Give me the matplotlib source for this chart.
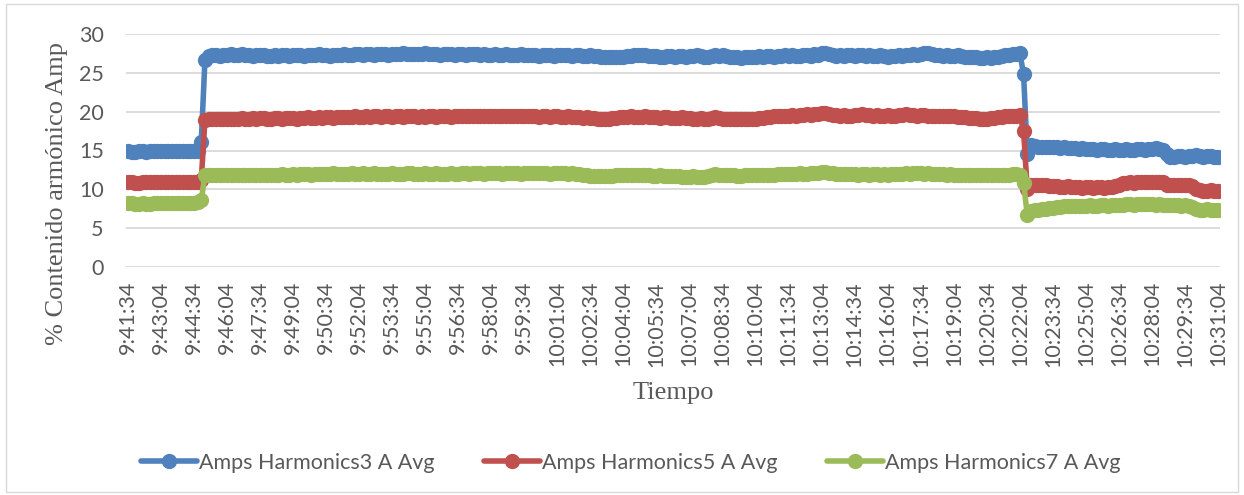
import numpy as np
import matplotlib
matplotlib.use("Agg")
import matplotlib.pyplot as plt
from matplotlib.patches import Rectangle

# readings every 10 s, 9:41:34 -> 10:31:04
h3 = [
    14.9, 14.8, 14.8, 14.9, 14.9, 14.8, 14.9, 14.9, 15.0, 14.9,
    14.9, 15.0, 14.9, 14.9, 15.0, 14.9, 15.0, 15.0, 14.9, 14.9,
    16.1, 26.6, 27.2, 27.3, 27.3, 27.2, 27.3, 27.3, 27.4, 27.3,
    27.3, 27.4, 27.3, 27.3, 27.2, 27.3, 27.3, 27.3, 27.2, 27.2,
    27.3, 27.2, 27.3, 27.3, 27.2, 27.3, 27.3, 27.3, 27.2, 27.3,
    27.3, 27.3, 27.4, 27.3, 27.3, 27.2, 27.3, 27.3, 27.3, 27.4,
    27.3, 27.3, 27.4, 27.4, 27.3, 27.4, 27.4, 27.3, 27.4, 27.4,
    27.4, 27.3, 27.4, 27.4, 27.4, 27.5, 27.4, 27.4, 27.4, 27.4,
    27.4, 27.5, 27.4, 27.4, 27.4, 27.3, 27.4, 27.4, 27.4, 27.3,
    27.4, 27.4, 27.3, 27.4, 27.4, 27.4, 27.3, 27.4, 27.3, 27.3,
    27.4, 27.3, 27.3, 27.4, 27.3, 27.3, 27.3, 27.4, 27.3, 27.3,
    27.3, 27.3, 27.2, 27.3, 27.3, 27.3, 27.2, 27.3, 27.3, 27.3,
    27.3, 27.2, 27.3, 27.3, 27.2, 27.2, 27.3, 27.2, 27.2, 27.1,
    27.1, 27.0, 27.1, 27.1, 27.0, 27.1, 27.2, 27.2, 27.3, 27.3,
    27.3, 27.3, 27.2, 27.2, 27.2, 27.1, 27.1, 27.2, 27.2, 27.1,
    27.2, 27.2, 27.1, 27.2, 27.2, 27.3, 27.2, 27.1, 27.0, 27.2,
    27.3, 27.2, 27.3, 27.2, 27.1, 27.0, 27.0, 26.9, 27.0, 27.1,
    27.1, 27.1, 27.2, 27.1, 27.2, 27.2, 27.1, 27.2, 27.2, 27.3,
    27.2, 27.3, 27.2, 27.2, 27.3, 27.3, 27.2, 27.4, 27.3, 27.5,
    27.6, 27.4, 27.3, 27.2, 27.3, 27.2, 27.3, 27.3, 27.2, 27.3,
    27.3, 27.2, 27.3, 27.2, 27.2, 27.3, 27.2, 27.1, 27.2, 27.2,
    27.3, 27.2, 27.3, 27.3, 27.4, 27.3, 27.4, 27.5, 27.5, 27.4,
    27.3, 27.3, 27.2, 27.3, 27.2, 27.2, 27.3, 27.2, 27.1, 27.1,
    27.0, 27.0, 26.9, 26.9, 27.0, 26.9, 27.0, 27.1, 27.2, 27.3,
    27.3, 27.4, 27.4, 27.5, 24.8, 14.5, 15.7, 15.6, 15.5, 15.5,
    15.5, 15.4, 15.4, 15.4, 15.3, 15.4, 15.3, 15.3, 15.3, 15.2,
    15.3, 15.2, 15.2, 15.2, 15.1, 15.2, 15.2, 15.1, 15.1, 15.2,
    15.1, 15.1, 15.2, 15.1, 15.1, 15.2, 15.2, 15.1, 15.2, 15.2,
    15.3, 15.2, 15.1, 14.6, 14.2, 14.2, 14.3, 14.3, 14.2, 14.3,
    14.3, 14.4, 14.3, 14.2, 14.3, 14.3, 14.2, 14.2,
]

h5 = [
    10.9, 10.9, 10.8, 10.8, 10.9, 10.9, 10.9, 10.9, 10.9, 10.9,
    10.9, 11.0, 10.9, 11.0, 11.0, 11.0, 11.0, 10.9, 11.0, 11.0,
    11.2, 18.9, 19.0, 19.1, 19.0, 19.1, 19.1, 19.1, 19.0, 19.1,
    19.1, 19.2, 19.1, 19.1, 19.2, 19.1, 19.2, 19.2, 19.1, 19.1,
    19.2, 19.2, 19.1, 19.2, 19.2, 19.2, 19.1, 19.2, 19.2, 19.3,
    19.2, 19.2, 19.3, 19.2, 19.3, 19.3, 19.2, 19.3, 19.3, 19.3,
    19.3, 19.3, 19.4, 19.3, 19.3, 19.4, 19.3, 19.4, 19.4, 19.3,
    19.4, 19.4, 19.3, 19.4, 19.4, 19.3, 19.4, 19.4, 19.4, 19.3,
    19.4, 19.3, 19.4, 19.4, 19.3, 19.4, 19.4, 19.4, 19.3, 19.4,
    19.4, 19.5, 19.4, 19.4, 19.4, 19.5, 19.4, 19.5, 19.5, 19.4,
    19.5, 19.4, 19.5, 19.5, 19.4, 19.4, 19.5, 19.4, 19.4, 19.4,
    19.4, 19.4, 19.3, 19.4, 19.4, 19.3, 19.4, 19.4, 19.3, 19.3,
    19.4, 19.3, 19.3, 19.3, 19.2, 19.3, 19.2, 19.2, 19.1, 19.1,
    19.1, 19.1, 19.2, 19.2, 19.3, 19.3, 19.3, 19.4, 19.3, 19.3,
    19.3, 19.4, 19.3, 19.3, 19.3, 19.2, 19.3, 19.3, 19.2, 19.2,
    19.2, 19.3, 19.2, 19.2, 19.1, 19.1, 19.2, 19.1, 19.1, 19.2,
    19.3, 19.2, 19.1, 19.1, 19.0, 19.0, 19.0, 19.0, 19.1, 19.1,
    19.1, 19.1, 19.2, 19.2, 19.3, 19.3, 19.4, 19.4, 19.5, 19.5,
    19.5, 19.6, 19.5, 19.6, 19.6, 19.7, 19.6, 19.7, 19.7, 19.8,
    19.8, 19.7, 19.6, 19.6, 19.5, 19.6, 19.5, 19.5, 19.6, 19.6,
    19.7, 19.6, 19.6, 19.5, 19.6, 19.5, 19.5, 19.6, 19.5, 19.5,
    19.6, 19.6, 19.7, 19.6, 19.6, 19.5, 19.6, 19.6, 19.5, 19.5,
    19.5, 19.4, 19.5, 19.4, 19.4, 19.4, 19.3, 19.3, 19.3, 19.2,
    19.2, 19.2, 19.1, 19.1, 19.1, 19.2, 19.2, 19.3, 19.3, 19.4,
    19.4, 19.5, 19.5, 19.6, 17.5, 10.0, 10.5, 10.5, 10.6, 10.5,
    10.5, 10.4, 10.4, 10.4, 10.3, 10.3, 10.4, 10.3, 10.3, 10.3,
    10.2, 10.3, 10.3, 10.2, 10.3, 10.3, 10.2, 10.3, 10.3, 10.4,
    10.6, 10.8, 10.8, 10.9, 10.8, 10.9, 10.9, 11.0, 10.9, 10.9,
    11.0, 11.0, 10.9, 10.6, 10.5, 10.5, 10.6, 10.5, 10.5, 10.5,
    10.4, 10.0, 9.9, 9.8, 9.8, 9.9, 9.8, 9.8,
]

h7 = [
    8.2, 8.2, 8.1, 8.1, 8.2, 8.1, 8.1, 8.2, 8.2, 8.2,
    8.2, 8.3, 8.2, 8.3, 8.3, 8.3, 8.3, 8.3, 8.3, 8.4,
    8.6, 11.8, 11.8, 11.8, 11.8, 11.9, 11.8, 11.8, 11.9, 11.8,
    11.8, 11.9, 11.8, 11.9, 11.9, 11.8, 11.9, 11.9, 11.9, 11.9,
    11.9, 11.9, 12.0, 11.9, 11.9, 12.0, 11.9, 12.0, 12.0, 12.0,
    11.9, 12.0, 12.0, 12.0, 12.0, 12.0, 12.1, 12.0, 12.0, 12.0,
    12.0, 12.1, 12.0, 12.0, 12.1, 12.0, 12.0, 12.1, 12.0, 12.0,
    12.0, 12.0, 12.1, 12.0, 12.0, 12.0, 12.1, 12.1, 12.0, 12.0,
    12.0, 12.1, 12.0, 12.0, 12.1, 12.0, 12.0, 12.0, 12.1, 12.0,
    12.0, 12.1, 12.1, 12.0, 12.1, 12.1, 12.1, 12.0, 12.1, 12.1,
    12.1, 12.1, 12.0, 12.1, 12.1, 12.1, 12.1, 12.0, 12.1, 12.1,
    12.1, 12.1, 12.1, 12.1, 12.1, 12.0, 12.1, 12.1, 12.1, 12.1,
    12.0, 12.1, 12.0, 12.0, 11.9, 11.8, 11.7, 11.7, 11.7, 11.7,
    11.7, 11.7, 11.7, 11.8, 11.8, 11.8, 11.8, 11.8, 11.8, 11.8,
    11.8, 11.8, 11.8, 11.7, 11.7, 11.8, 11.7, 11.7, 11.7, 11.7,
    11.7, 11.6, 11.6, 11.6, 11.7, 11.6, 11.6, 11.6, 11.7, 11.9,
    12.0, 11.9, 11.9, 11.8, 11.8, 11.8, 11.7, 11.7, 11.8, 11.8,
    11.8, 11.8, 11.8, 11.9, 11.9, 11.9, 11.9, 12.0, 12.0, 12.0,
    12.0, 12.0, 12.0, 12.1, 12.0, 12.0, 12.1, 12.1, 12.1, 12.2,
    12.2, 12.1, 12.1, 12.0, 12.0, 12.0, 12.0, 12.0, 12.0, 11.9,
    12.0, 12.0, 11.9, 12.0, 12.0, 11.9, 12.0, 11.9, 12.0, 12.0,
    12.0, 12.0, 12.1, 12.0, 12.1, 12.1, 12.1, 12.0, 12.1, 12.0,
    12.0, 12.0, 12.0, 11.9, 12.0, 11.9, 11.9, 11.9, 11.9, 11.8,
    11.8, 11.9, 11.8, 11.8, 11.8, 11.9, 11.8, 11.8, 11.9, 11.9,
    11.9, 12.0, 12.0, 11.9, 10.8, 6.7, 7.2, 7.3, 7.4, 7.5,
    7.5, 7.6, 7.6, 7.7, 7.7, 7.8, 7.8, 7.8, 7.9, 7.9,
    7.9, 7.9, 8.0, 7.9, 7.9, 8.0, 8.0, 7.9, 8.0, 8.0,
    8.0, 8.0, 8.1, 8.1, 8.0, 8.1, 8.1, 8.1, 8.1, 8.1,
    8.0, 8.1, 8.0, 8.0, 8.0, 8.0, 8.0, 7.9, 8.0, 7.9,
    7.7, 7.5, 7.4, 7.4, 7.5, 7.4, 7.4, 7.4,
]

tick_labels = [
    "9:41:34", "9:43:04", "9:44:34", "9:46:04", "9:47:34", "9:49:04",
    "9:50:34", "9:52:04", "9:53:34", "9:55:04", "9:56:34", "9:58:04",
    "9:59:34", "10:01:04", "10:02:34", "10:04:04", "10:05:34", "10:07:04",
    "10:08:34", "10:10:04", "10:11:34", "10:13:04", "10:14:34", "10:16:04",
    "10:17:34", "10:19:04", "10:20:34", "10:22:04", "10:23:34", "10:25:04",
    "10:26:34", "10:28:04", "10:29:34", "10:31:04",
]

series = [
    ("Amps Harmonics3 A Avg", h3, "#4F81BD"),
    ("Amps Harmonics5 A Avg", h5, "#C0504D"),
    ("Amps Harmonics7 A Avg", h7, "#9BBB59"),
]

W, H = 1244, 495
gray = "#595959"
sans = ["Lato", "DejaVu Sans"]
serif = ["Liberation Serif", "DejaVu Serif"]

fig = plt.figure(figsize=(W / 100, H / 100), dpi=100)
fig.patches.append(Rectangle((6 / W, 3 / H), 1232 / W, 488 / H,
                             transform=fig.transFigure, fill=False,
                             edgecolor="#D9D9D9", linewidth=1.0))

ax = fig.add_axes([126 / W, 1 - 267 / H, 1094 / W, 233 / H])
x = np.arange(len(h3))
for name, vals, col in series:
    ax.plot(x, vals, color=col, linewidth=4, marker="o", markersize=11,
            markeredgewidth=0, label=name, solid_capstyle="round")

ax.set_xlim(-0.5, len(h3) - 0.5)
ax.set_ylim(0, 30)
ax.set_yticks(range(0, 31, 5))
ax.set_xticks(x[::9])
ax.set_xticklabels(tick_labels, rotation=90, family=sans, fontsize=15.5,
                   color=gray)
for lab in ax.get_yticklabels():
    lab.set_family(sans)
    lab.set_fontsize(15.5)
    lab.set_color(gray)
ax.tick_params(axis="x", length=0, pad=10)
ax.tick_params(axis="y", length=0, pad=16)
ax.grid(axis="y", color="#D9D9D9", linewidth=1.3)
ax.set_axisbelow(True)
for s in ax.spines.values():
    s.set_visible(False)

fig.text(57 / W, 1 - 193 / H, "% Contenido armónico Amp", rotation=90,
         ha="center", va="center", family=serif, fontsize=19, color=gray)
fig.text(673 / W, 1 - 393 / H, "Tiempo", ha="center", va="center",
         family=serif, fontsize=19, color=gray)

fig.legend(loc="center", bbox_to_anchor=(631 / W, 1 - 463 / H), ncol=3,
           frameon=False, prop={"family": sans, "size": 15.5},
           labelcolor=gray, handlelength=2.6, handletextpad=0.1,
           columnspacing=2.3, borderaxespad=0)

fig.savefig("out.png", dpi=100)
